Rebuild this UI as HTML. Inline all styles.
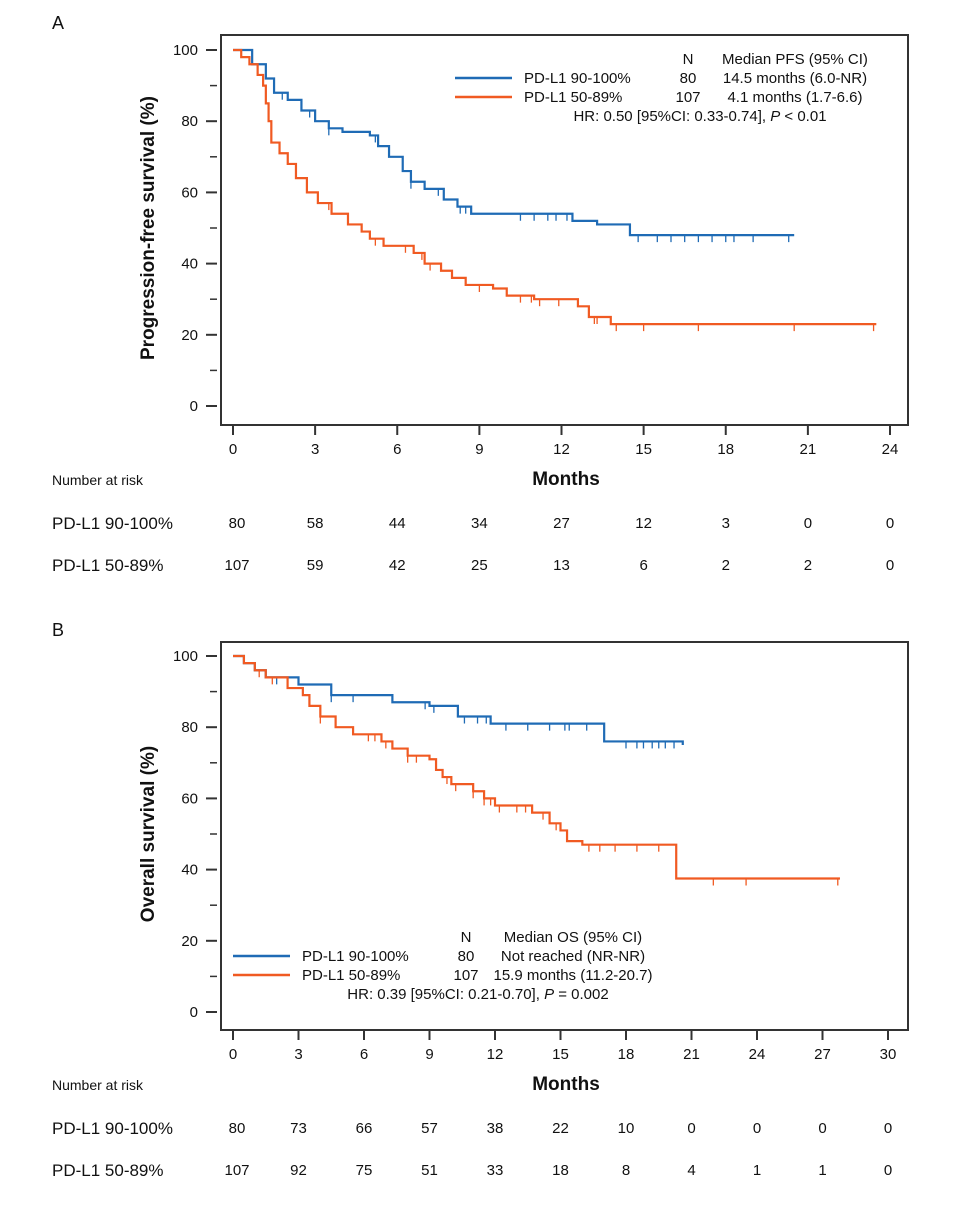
<!DOCTYPE html>
<html><head><meta charset="utf-8"><style>
body{margin:0;background:#fff;font-family:"Liberation Sans",Arial,sans-serif;}
svg text{font-family:"Liberation Sans",Arial,sans-serif;fill:#111;}
</style></head><body>
<svg id="s" width="965" height="1200" xmlns="http://www.w3.org/2000/svg"></svg>
<script>
// ---- Panel A data ----
const aBlueT=[0,0.7,1.2,1.5,2,2.5,3,3.5,4,5,5.3,5.7,6.2,6.5,7,7.7,8.2,8.7,12.4,13.3,14.5,20.5];
const aBlueS=[100,96,92,88,86,83,80,78,77,76,73,70,66,63,61,58,56,54,52,51,48,48];
const aOrT=[0,0.3,0.6,0.9,1.1,1.2,1.3,1.4,1.7,2,2.3,2.7,3.1,3.6,4.2,4.7,5,5.5,6.6,7,7.6,8,8.5,9.5,10,11,12.6,13,13.8,23.5];
const aOrS=[100,98,96,93,90,85,80,74,71,68,64,60,57,54,51,49,47,45,43,40,38,36,34,33,31,30,28,25,23,23];
const aBlueC=[1.8,2.8,3.5,5.2,6.5,7.5,8.3,8.5,10.5,11,11.5,11.8,12.2,14.8,15.5,16,16.5,17,17.5,18,18.3,19,20.3];
const aOrC=[3.5,5.2,6.3,6.9,7.2,9,10.5,10.9,11.2,11.9,13.2,13.3,14,15,17,20.5,23.4];
const aTicksX=[0,3,6,9,12,15,18,21,24];
const aRiskBlue=[80,58,44,34,27,12,3,0,0];
const aRiskOr=[107,59,42,25,13,6,2,2,0];
// ---- Panel B data ----
const bBlueT=[0,0.5,1,1.5,3,4.5,7.3,9,10.3,11.8,17,20.6];
const bBlueS=[100,98,96,94,92,89,87,86,83,81,76,75];
const bOrT=[0,0.5,1,1.5,2.5,3.2,3.5,4,4.7,5.5,6.8,7.3,8,9,9.3,9.6,10,11,11.5,12,13.7,14.5,15,15.3,16,20.3,27.8];
const bOrS=[100,98,96,94,91,89,86,83,80,78,76,74,72,71,68,66,64,62,60,58,56,53,51,48,47,37.5,37.5];
const bBlueC=[2,4.5,5.5,8.8,9.2,10.6,11.2,11.6,12.5,13.5,14.5,15.2,15.4,16.2,18,18.5,18.8,19.2,19.5,19.8,20.2];
const bOrC=[1.2,1.8,4,6.2,6.5,7,8,8.4,9.8,10.2,11,11.5,11.8,12.2,13,13.4,14.2,14.8,16.3,16.8,17.5,18.5,19.5,22,23.5,27.7];
const bTicksX=[0,3,6,9,12,15,18,21,24,27,30];
const bRiskBlue=[80,73,66,57,38,22,10,0,0,0,0];
const bRiskOr=[107,92,75,51,33,18,8,4,1,1,0];
const yTicks=[0,20,40,60,80,100];

const S=document.getElementById('s');const NS='http://www.w3.org/2000/svg';
function mk(tag,at,txt){const e=document.createElementNS(NS,tag);for(const k in at)e.setAttribute(k,at[k]);if(txt!==undefined)e.textContent=txt;S.appendChild(e);return e;}
const BLUE='#1f6bb5',OR='#f05a22';
function panel(P){
 const X=t=>P.x0+(t/P.xmax)*(P.x1-P.x0);
 const Y=v=>P.y0-(v/100)*(P.y0-P.y100);
 let f=mk('rect',{x:221,y:P.top,width:687,height:P.bot-P.top,fill:'none',stroke:'#333','stroke-width':2});
 
 
 yTicks.forEach(v=>{let l=mk('line',{x1:206,x2:217,y1:Y(v),y2:Y(v),stroke:'#333','stroke-width':2});
  
  
  let tx=mk('text',{x:198,y:Y(v)+5,'text-anchor':'end','font-size':15},v);
  
  
  if(v<100){let m=mk('line',{x1:210,x2:217,y1:Y(v+10),y2:Y(v+10),stroke:'#333','stroke-width':1.5});
  
  }
 });
 P.ticks.forEach((t,i)=>{let l=mk('line',{x1:X(t),x2:X(t),y1:P.bot+1,y2:P.bot+10,stroke:'#333','stroke-width':2});
  
  
  let tx=mk('text',{x:X(t),y:P.bot+29,'text-anchor':'middle','font-size':15},t);
  
  
  let r1=mk('text',{x:X(t)+(i==0?4:0),y:P.bot+103,'text-anchor':'middle','font-size':15},P.rb[i]);
  
  
  let r2=mk('text',{x:X(t)+(i==0?4:0),y:P.bot+145,'text-anchor':'middle','font-size':15},P.ro[i]);
  
  
 });
 let xt=mk('text',{x:566,y:P.bot+60,'text-anchor':'middle','font-size':19,'font-weight':'bold'},'Months');
 
 let nr=mk('text',{x:52,y:P.bot+60,'font-size':14},'Number at risk');
 
 let g1=mk('text',{x:52,y:P.bot+104,'font-size':17},'PD-L1 90-100%');
 
 let g2=mk('text',{x:52,y:P.bot+146,'font-size':17},'PD-L1 50-89%');
 
 const yc=(P.y0+P.y100)/2;
 let yt=mk('text',{x:154,y:yc,'text-anchor':'middle','font-size':19,'font-weight':'bold',transform:`rotate(-90 154 ${yc})`},P.ytitle);
 
 let lt=mk('text',{x:52,y:P.top-6,'font-size':18},P.letter);
 
 function curve(T,V,C,col,nm){
  let d=`M${X(T[0])},${Y(V[0])}`;
  for(let i=1;i<T.length;i++){d+=` H${X(T[i])} V${Y(V[i])}`;}
  let p=mk('path',{d:d,fill:'none',stroke:col,'stroke-width':2.2});
  
  
  C.forEach(c=>{let k=0;for(let i=0;i<T.length;i++)if(T[i]<=c)k=i;
   let l=mk('line',{x1:X(c),x2:X(c),y1:Y(V[k]),y2:Y(V[k])+7,stroke:col,'stroke-width':1.3});
   
   });
 }
 curve(P.bt,P.bs,P.bc,BLUE,'90-100');
 curve(P.ot,P.os,P.oc,OR,'50-89');
}
panel({id:'pfs',letter:'A',top:35,bot:425,x0:233,x1:890,xmax:24,y0:406,y100:50,ticks:aTicksX,rb:aRiskBlue,ro:aRiskOr,
 ytitle:'Progression-free survival (%)',bt:aBlueT,bs:aBlueS,ot:aOrT,os:aOrS,bc:aBlueC,oc:aOrC});
panel({id:'os',letter:'B',top:642,bot:1030,x0:233,x1:888,xmax:30,y0:1012,y100:656,ticks:bTicksX,rb:bRiskBlue,ro:bRiskOr,
 ytitle:'Overall  survival (%)',bt:bBlueT,bs:bBlueS,ot:bOrT,os:bOrS,bc:bBlueC,oc:bOrC});
function legend(id,x,y,rows,hr){
 let h=mk('text',{x:x+233,y:y,'text-anchor':'middle','font-size':15},'N');
 let h2=mk('text',{x:x+340,y:y,'text-anchor':'middle','font-size':15},rows[2]);
 [[BLUE,'PD-L1 90-100%','80',rows[0]],[OR,'PD-L1 50-89%','107',rows[1]]].forEach((r,i)=>{
  const yy=y+19+i*19;
  let l=mk('line',{x1:x,x2:x+57,y1:yy-5,y2:yy-5,stroke:r[0],'stroke-width':2.5});
  let a=mk('text',{x:x+69,y:yy,'font-size':15},r[1]);
  let b=mk('text',{x:x+233,y:yy,'text-anchor':'middle','font-size':15},r[2]);
  let c=mk('text',{x:x+340,y:yy,'text-anchor':'middle','font-size':15},r[3]);
 });
 let t=mk('text',{x:x+245,y:y+57,'text-anchor':'middle','font-size':15});
 t.innerHTML=hr;
}
legend('pfs',455,64,['14.5 months (6.0-NR)','4.1 months (1.7-6.6)','Median PFS (95% CI)'],'HR: 0.50 [95%CI: 0.33-0.74], <tspan font-style="italic">P</tspan> &lt; 0.01');
legend('os',233,942,['Not reached (NR-NR)','15.9 months (11.2-20.7)','Median OS (95% CI)'],'HR: 0.39 [95%CI: 0.21-0.70], <tspan font-style="italic">P</tspan> = 0.002');
</script>
</body></html>
